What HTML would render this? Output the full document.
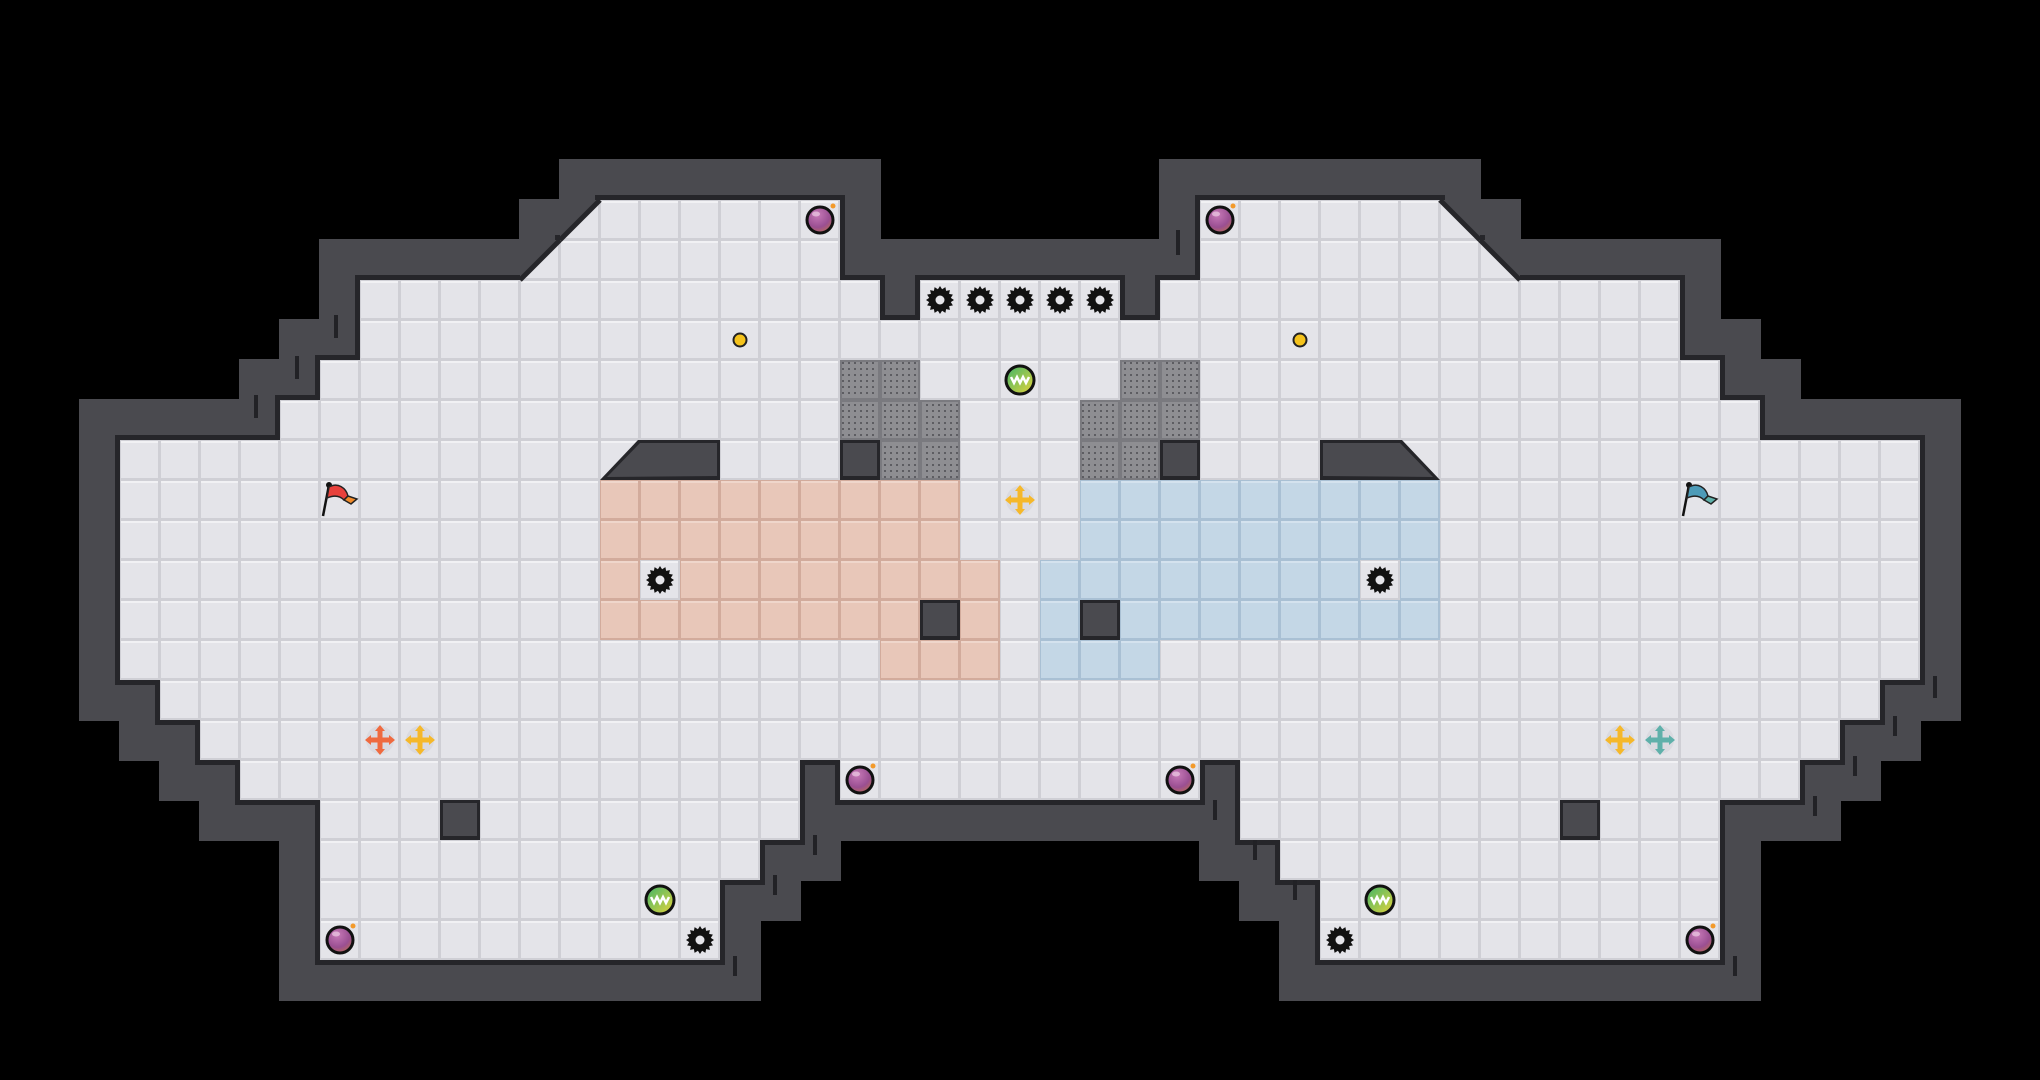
<!DOCTYPE html>
<html><head><meta charset="utf-8"><style>
html,body{margin:0;padding:0;background:#000;width:2040px;height:1080px;overflow:hidden}
svg{display:block}
</style></head><body>
<svg id="s" width="2040" height="1080" xmlns="http://www.w3.org/2000/svg">
<defs>
<radialGradient id="pb" cx="0.4" cy="0.3" r="0.8"><stop offset="0" stop-color="#c77ab8"/><stop offset="0.6" stop-color="#9a4f92"/><stop offset="1" stop-color="#c0704a"/></radialGradient>
<linearGradient id="gb" x1="0" y1="0" x2="1" y2="1"><stop offset="0" stop-color="#3fb56a"/><stop offset="1" stop-color="#e6d43a"/></linearGradient>
<pattern id="gr" width="6" height="6" patternUnits="userSpaceOnUse"><rect width="6" height="6" fill="#8e8e92"/><rect x="2" y="2" width="2" height="2" fill="#5d5d62"/></pattern>
</defs>
</svg>
<script>
const T=40,NS="http://www.w3.org/2000/svg",s=document.getElementById('s');
function el(t,a,p){const e=document.createElementNS(NS,t);for(const k in a)e.setAttribute(k,a[k]);(p||s).appendChild(e);return e;}
const F={};function rng(r,a,b){for(let c=a;c<=b;c++)F[c+','+r]=1;}
rng(5,15,20);rng(5,30,35);rng(6,14,20);rng(6,30,36);
rng(7,9,21);rng(7,23,27);rng(7,29,41);rng(8,9,41);rng(9,8,42);rng(10,7,43);
for(let r=11;r<=16;r++)rng(r,3,47);
rng(17,4,46);rng(18,5,45);rng(19,6,19);rng(19,21,29);rng(19,31,44);
rng(20,8,19);rng(20,31,42);rng(21,8,18);rng(21,32,42);
for(let r=22;r<=23;r++){rng(r,8,17);rng(r,33,42);}
const D={'14,5':'l','13,6':'l','36,5':'r','37,6':'r'};
const isF=(c,r)=>F[c+','+r];
const W=[];
for(let r=0;r<27;r++)for(let c=0;c<51;c++){if(isF(c,r)||D[c+','+r])continue;let n=false;for(let dr=-1;dr<=1;dr++)for(let dc=-1;dc<=1;dc++)if(isF(c+dc,r+dr))n=true;if(n)W.push([c,r]);}
W.forEach(([c,r])=>el('rect',{x:c*T-1,y:r*T-1,width:T+2,height:T+2,fill:'#4a4a4f'}));
for(const k in D){const [c,r]=k.split(',').map(Number);el('rect',{x:c*T,y:r*T,width:T,height:T,fill:'#4a4a4f'});}
for(const k in F){const [c,r]=k.split(',').map(Number);el('rect',{x:c*T-5,y:r*T-5,width:T+10,height:T+10,fill:'#26262a'});}
const orange=new Set(),blue=new Set();
for(let r=12;r<=15;r++)for(let c=15;c<=23;c++)orange.add(c+','+r);
[[24,14],[24,15],[24,16],[22,16],[23,16]].forEach(p=>orange.add(p.join(',')));
for(let r=12;r<=15;r++)for(let c=27;c<=35;c++)blue.add(c+','+r);
[[26,14],[26,15],[26,16],[27,16],[28,16]].forEach(p=>blue.add(p.join(',')));
['16,14','34,14'].forEach(k=>{orange.delete(k);blue.delete(k);});
function tile(c,r,col){const x=c*T,y=r*T;
 el('rect',{x:x,y:y,width:T,height:T,fill:col.b});
 el('rect',{x:x+1,y:y+1,width:T-3,height:T-3,fill:col.m});
 el('rect',{x:x+1,y:y+1,width:T-3,height:2,fill:col.h});
}
const CW={b:'#cfcfd5',m:'#e4e4e9',h:'#f1f1f4'},CO={b:'#d2ab9c',m:'#e8c7b9',h:'#efd6cb'},CB={b:'#a9c0d4',m:'#c4d7e6',h:'#d4e2ee'};
for(const k in F){const [c,r]=k.split(',').map(Number);tile(c,r,orange.has(k)?CO:blue.has(k)?CB:CW);}
for(const k in D){const [c,r]=k.split(',').map(Number);tile(c,r,CW);const x=c*T,y=r*T;
 if(D[k]=='l'){el('polygon',{points:`${x},${y} ${x+T},${y} ${x},${y+T}`,fill:'#4a4a4f'});el('line',{x1:x+T,y1:y,x2:x,y2:y+T,stroke:'#26262a','stroke-width':5});}
 else{el('polygon',{points:`${x},${y} ${x+T},${y} ${x+T},${y+T}`,fill:'#4a4a4f'});el('line',{x1:x,y1:y,x2:x+T,y2:y+T,stroke:'#26262a','stroke-width':5});}
}
[[336,315,336,338],[297,356,297,379],[256,395,256,418],[1178,230,1178,255],[1935,676,1935,698],[1895,716,1895,736],[1855,756,1855,776],[1815,796,1815,816],[1735,956,1735,976],[735,956,735,976],[775,875,775,895],[815,835,815,855],[1215,800,1215,820],[1255,840,1255,860],[1295,880,1295,900]].forEach(a=>el('line',{x1:a[0],y1:a[1],x2:a[2],y2:a[3],stroke:'#222226','stroke-width':4}));
function block(c,r){el('rect',{x:c*T,y:r*T,width:T,height:T,fill:'#26262a'});el('rect',{x:c*T+3,y:r*T+3,width:T-6,height:T-7,fill:'#4a4a4f'});}
el('polygon',{points:'600,480 638,440 720,440 720,480',fill:'#26262a'});
el('polygon',{points:'607,477 640,443 717,443 717,476',fill:'#4a4a4f'});
el('polygon',{points:'1440,480 1402,440 1320,440 1320,480',fill:'#26262a'});
el('polygon',{points:'1433,477 1400,443 1323,443 1323,476',fill:'#4a4a4f'});
[[21,11],[29,11],[23,15],[27,15],[11,20],[39,20]].forEach(p=>block(p[0],p[1]));
[[21,9],[22,9],[28,9],[29,9],[21,10],[22,10],[23,10],[27,10],[28,10],[29,10],[22,11],[23,11],[27,11],[28,11]].forEach(([c,r])=>{el('rect',{x:c*T,y:r*T,width:T,height:T,fill:'#7a7a7f'});el('rect',{x:c*T+2,y:r*T+2,width:T-4,height:T-4,fill:'url(#gr)'});});
function saw(c,r){const cx=c*T+20,cy=r*T+20;let p=[];for(let i=0;i<32;i++){const a=i*Math.PI/16,R=i%2?11:14;p.push((cx+R*Math.cos(a)).toFixed(1)+','+(cy+R*Math.sin(a)).toFixed(1));}
 el('polygon',{points:p.join(' '),fill:'#111'});el('circle',{cx:cx,cy:cy,r:4.5,fill:'#e4e4e9'});}
[[23,7],[24,7],[25,7],[26,7],[27,7],[16,14],[34,14],[17,23],[33,23]].forEach(p=>saw(p[0],p[1]));
function bomb(c,r){const cx=c*T+20,cy=r*T+20;el('circle',{cx:cx,cy:cy,r:13,fill:'url(#pb)',stroke:'#111','stroke-width':3});el('ellipse',{cx:cx-4,cy:cy-6,rx:4,ry:2.5,fill:'#e9c3e0',opacity:.8});el('circle',{cx:cx+13,cy:cy-14,r:2.5,fill:'#f39a2a'});}
[[20,5],[30,5],[21,19],[29,19],[8,23],[42,23]].forEach(p=>bomb(p[0],p[1]));
function gball(c,r){const cx=c*T+20,cy=r*T+20;el('circle',{cx:cx,cy:cy,r:14,fill:'url(#gb)',stroke:'#111','stroke-width':3});el('polyline',{points:`${cx-9},${cy-3} ${cx-6},${cy+3} ${cx-3},${cy-3} ${cx},${cy+3} ${cx+3},${cy-3} ${cx+6},${cy+3} ${cx+9},${cy-3}`,fill:'none',stroke:'#fff','stroke-width':2.5});}
[[25,9],[16,22],[34,22]].forEach(p=>gball(p[0],p[1]));
[[18,8],[32,8]].forEach(([c,r])=>el('circle',{cx:c*T+20,cy:r*T+20,r:6.5,fill:'#f5c31c',stroke:'#222','stroke-width':2}));
function cross(c,r,col){const cx=c*T+20,cy=r*T+20,g=el('g',{});el('circle',{cx:cx,cy:cy,r:14,fill:'#d6d6dc',opacity:.7},g);
 el('rect',{x:cx-2.5,y:cy-11,width:5,height:22,fill:col},g);el('rect',{x:cx-11,y:cy-2.5,width:22,height:5,fill:col},g);
 [[0,-1],[0,1],[-1,0],[1,0]].forEach(([dx,dy])=>{const tx=cx+dx*15,ty=cy+dy*15,bx=cx+dx*9,by=cy+dy*9;el('polygon',{points:`${tx},${ty} ${bx+dy*5},${by+dx*5} ${bx-dy*5},${by-dx*5}`,fill:col},g);});}
cross(25,12,'#f5b82a');cross(9,18,'#ef6a3f');cross(10,18,'#f5b82a');cross(40,18,'#f5b82a');cross(41,18,'#5fb0aa');
function flag(c,r,col,col2){const x=c*T,y=r*T;el('line',{x1:x+3,y1:y+36,x2:x+9,y2:y+5,stroke:'#111','stroke-width':2.5});el('circle',{cx:x+9,cy:y+5,r:3,fill:'#111'});
 el('path',{d:`M${x+9},${y+7} C${x+18},${y+2} ${x+26},${y+8} ${x+28},${y+16} L${x+24},${y+20} C${x+20},${y+16} ${x+14},${y+15} ${x+7},${y+18} Z`,fill:col,stroke:'#222','stroke-width':1.5});
 el('path',{d:`M${x+24},${y+20} L${x+28},${y+16} L${x+37},${y+19} L${x+31},${y+24} Z`,fill:col2,stroke:'#222','stroke-width':1.5});}
flag(8,12,'#e8413c','#f08a2a');flag(42,12,'#4d9bb8','#5fb0aa');
</script>
</body></html>
